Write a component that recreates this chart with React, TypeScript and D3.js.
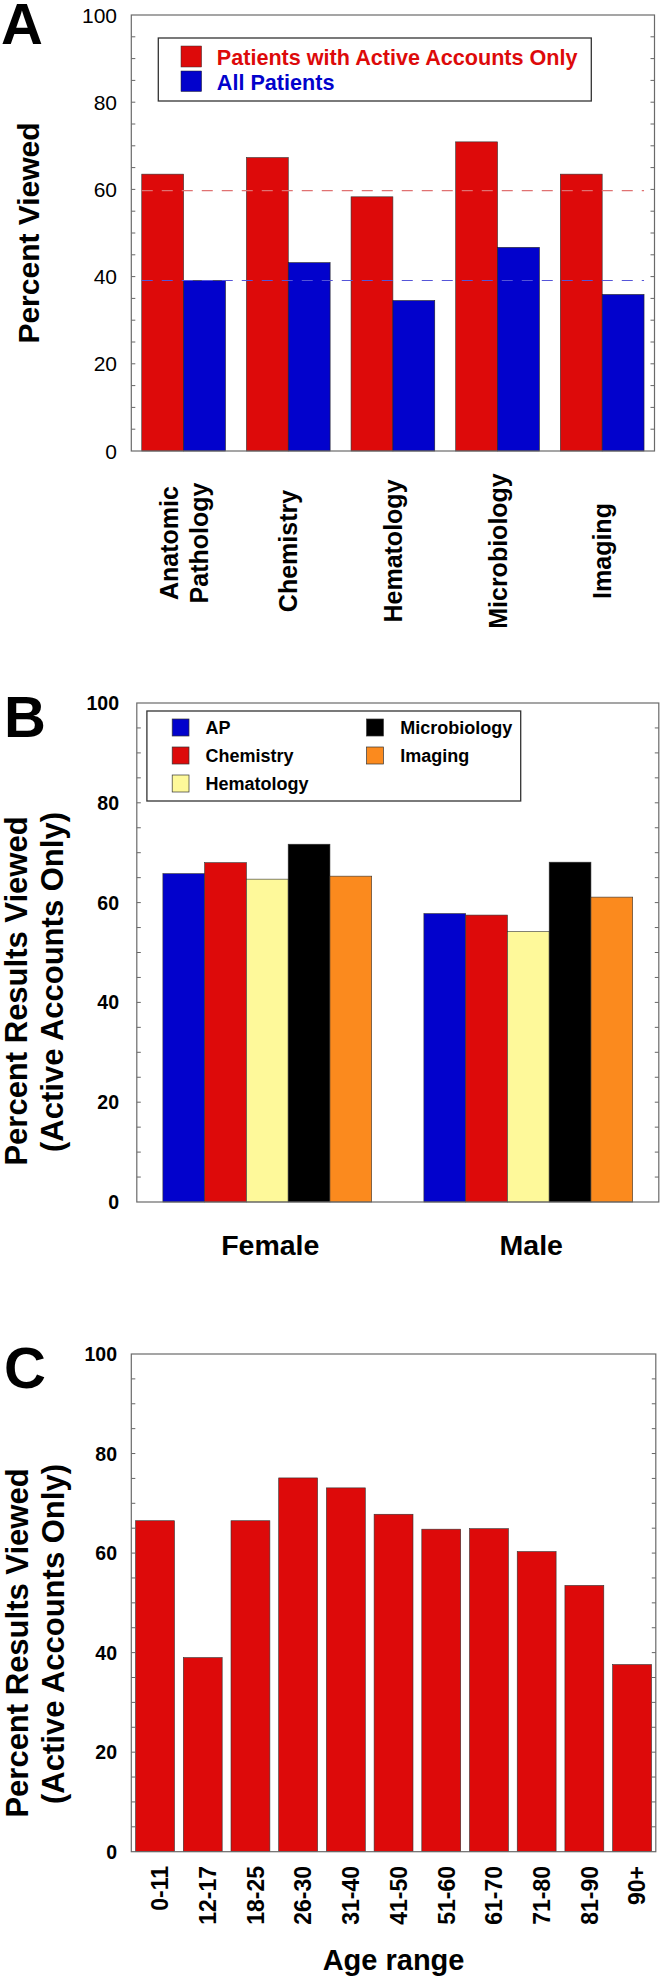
import * as d3 from 'd3';

// Panel A: viewing rate by result type
const labelsA = [['Anatomic', 'Pathology'], ['Chemistry'], ['Hematology'], ['Microbiology'], ['Imaging']];
const activeA = [63.5, 67.3, 58.3, 70.9, 63.5];
const allA = [39.1, 43.2, 34.5, 46.7, 35.9];
const meanActiveA = 59.7;
const meanAllA = 39.1;

// Panel B: by sex
const sexes = ['Female', 'Male'];
const typesB = ['AP', 'Chemistry', 'Hematology', 'Microbiology', 'Imaging'];
const apB = [65.8, 57.8];
const chemB = [68.0, 57.5];
const hemB = [64.7, 54.2];
const microB = [71.7, 68.1];
const imgB = [65.3, 61.1];

// Panel C: by age range
const ages = ['0-11', '12-17', '18-25', '26-30', '31-40', '41-50', '51-60', '61-70', '71-80', '81-90', '90+'];
const valuesC = [66.5, 39.0, 66.5, 75.1, 73.1, 67.8, 64.8, 64.9, 60.3, 53.5, 37.6];

const yTicks = [0, 20, 40, 60, 80, 100];

const RED = '#dd0a0a';
const BLUE = '#0202cc';
const colorsB = ['#0202cc', '#dd0a0a', '#fef99a', '#000000', '#fb8a1e'];
const FONT = '"Liberation Sans", Arial, Helvetica, sans-serif';

const Frame = ({ x0, x1, y }: { x0: number; x1: number; y: d3.ScaleLinear<number, number> }) => {
  const minor = d3.range(5, 100, 5);
  const [b, t] = y.range();
  return (
    <g>
      {minor.map(v => (
        <g key={v} stroke="#666" strokeWidth={1}>
          <line x1={x0} x2={x0 + 4} y1={y(v)} y2={y(v)} />
          <line x1={x1 - 4} x2={x1} y1={y(v)} y2={y(v)} />
        </g>
      ))}
      <rect x={x0} y={t} width={x1 - x0} height={b - t} fill="none" stroke="#6a6a6a" strokeWidth={1.2} />
    </g>
  );
};

const App = () => {
  // ---------- A ----------
  const axL = 131.3, axR = 654.5;
  const yA = d3.scaleLinear().domain([0, 100]).range([451, 15]);
  const xA = d3.scaleBand<number>().domain(d3.range(labelsA.length)).range([axL, axR]).paddingInner(0.2).paddingOuter(0.1);
  const subA = d3.scaleBand<number>().domain([0, 1]).range([0, xA.bandwidth()]);
  const lineA0 = xA(0)!, lineA1 = xA(labelsA.length - 1)! + xA.bandwidth();

  // ---------- B ----------
  const bxL = 136.8, bxR = 658.8;
  const yB = d3.scaleLinear().domain([0, 100]).range([1202, 703]);
  const xB = d3.scaleBand<number>().domain(d3.range(sexes.length)).range([bxL, bxR]).paddingInner(0.2).paddingOuter(0.1);
  const subB = d3.scaleBand<number>().domain(d3.range(typesB.length)).range([0, xB.bandwidth()]);
  const seriesB = [apB, chemB, hemB, microB, imgB];

  // ---------- C ----------
  const cxL = 131.3, cxR = 655.8;
  const yC = d3.scaleLinear().domain([0, 100]).range([1851.7, 1354]);
  const xC = d3.scaleBand<string>().domain(ages).range([cxL, cxR]).paddingInner(0.185).paddingOuter(0.09);

  return (
    <svg width={660} height={1977} style={{ position: 'absolute', left: 0, top: 0, background: '#fff' }} fontFamily={FONT}>
      <rect width={660} height={1977} fill="#fff" />

      {/* ===== Panel A ===== */}
      <text x={1} y={44} fontSize={58} fontWeight="bold">A</text>
      {yTicks.map(v => (
        <text key={v} x={117} y={yA(v)} dy="0.36em" textAnchor="end" fontSize={21}>{v}</text>
      ))}
      <text transform={`translate(39,${(yA(0) + yA(100)) / 2}) rotate(-90)`} textAnchor="middle" fontSize={30} fontWeight="bold">Percent Viewed</text>
      {labelsA.map((_, i) => (
        <g key={i}>
          <rect x={xA(i)! + subA(0)!} y={yA(activeA[i])} width={subA.bandwidth()} height={yA(0) - yA(activeA[i])} fill={RED} stroke="#333" strokeWidth={0.6} />
          <rect x={xA(i)! + subA(1)!} y={yA(allA[i])} width={subA.bandwidth()} height={yA(0) - yA(allA[i])} fill={BLUE} stroke="#222" strokeWidth={0.6} />
        </g>
      ))}
      <line x1={lineA0} x2={lineA1} y1={yA(meanActiveA)} y2={yA(meanActiveA)} stroke="#e07272" strokeWidth={1.2} strokeDasharray="11 9" />
      <line x1={lineA0} x2={lineA1} y1={yA(meanAllA)} y2={yA(meanAllA)} stroke="#5555d8" strokeWidth={1.2} strokeDasharray="11 9" />
      <Frame x0={axL} x1={axR} y={yA} />
      {labelsA.map((lines, i) => {
        const c = xA(i)! + xA.bandwidth() / 2;
        const cy = lines.length > 1 ? 543 : 551;
        return lines.map((ln, j) => (
          <text key={`${i}-${j}`} transform={`translate(${c + (j - (lines.length - 1) / 2) * 30},${cy}) rotate(-90)`} dy="0.36em" textAnchor="middle" fontSize={25} fontWeight="bold">{ln}</text>
        ));
      })}
      {/* legend A */}
      <rect x={158.3} y={38} width={433} height={63} fill="#fff" stroke="#333" strokeWidth={1.3} />
      <rect x={181} y={46} width={20.6} height={21} fill={RED} stroke="#333" strokeWidth={0.5} />
      <rect x={181} y={71} width={20.6} height={20.5} fill={BLUE} stroke="#222" strokeWidth={0.5} />
      <text x={216.8} y={65} fontSize={21.6} fontWeight="bold" fill={RED}>Patients with Active Accounts Only</text>
      <text x={216.8} y={90} fontSize={21.6} fontWeight="bold" fill={BLUE}>All Patients</text>

      {/* ===== Panel B ===== */}
      <text x={4} y={737} fontSize={58} fontWeight="bold">B</text>
      {yTicks.map(v => (
        <text key={v} x={119} y={yB(v)} dy="0.36em" textAnchor="end" fontSize={19.5} fontWeight="bold">{v}</text>
      ))}
      <text transform="translate(27,991) rotate(-90)" textAnchor="middle" fontSize={31} fontWeight="bold">Percent Results Viewed</text>
      <text transform="translate(63,982) rotate(-90)" textAnchor="middle" fontSize={31} fontWeight="bold">(Active Accounts Only)</text>
      {sexes.map((_, i) =>
        seriesB.map((s, k) => (
          <rect key={`${i}-${k}`} x={xB(i)! + subB(k)!} y={yB(s[i])} width={subB.bandwidth()} height={yB(0) - yB(s[i])} fill={colorsB[k]} stroke="#333" strokeWidth={0.6} />
        ))
      )}
      <Frame x0={bxL} x1={bxR} y={yB} />
      {sexes.map((s, i) => (
        <text key={s} x={xB(i)! + xB.bandwidth() / 2 + 3} y={1255} textAnchor="middle" fontSize={28.5} fontWeight="bold">{s}</text>
      ))}
      {/* legend B */}
      <rect x={146.9} y={711} width={373.8} height={90} fill="#fff" stroke="#333" strokeWidth={1.3} />
      {typesB.map((t, k) => {
        const col = k < 3 ? 0 : 1;
        const row = k < 3 ? k : k - 3;
        const sx = col === 0 ? 172.2 : 366.6;
        const tx = col === 0 ? 205.4 : 400.3;
        const top = 719 + row * 28;
        return (
          <g key={t}>
            <rect x={sx} y={top} width={16.8} height={17} fill={colorsB[k]} stroke="#333" strokeWidth={0.7} />
            <text x={tx} y={top + 15} fontSize={18} fontWeight="bold">{t}</text>
          </g>
        );
      })}

      {/* ===== Panel C ===== */}
      <text x={4} y={1388} fontSize={58} fontWeight="bold">C</text>
      {yTicks.map(v => (
        <text key={v} x={117} y={yC(v)} dy="0.36em" textAnchor="end" fontSize={19.5} fontWeight="bold">{v}</text>
      ))}
      <text transform="translate(28,1643) rotate(-90)" textAnchor="middle" fontSize={31} fontWeight="bold">Percent Results Viewed</text>
      <text transform="translate(64,1634) rotate(-90)" textAnchor="middle" fontSize={31} fontWeight="bold">(Active Accounts Only)</text>
      {ages.map((a, i) => (
        <rect key={a} x={xC(a)!} y={yC(valuesC[i])} width={xC.bandwidth()} height={yC(0) - yC(valuesC[i])} fill={RED} stroke="#333" strokeWidth={0.6} />
      ))}
      <Frame x0={cxL} x1={cxR} y={yC} />
      {ages.map(a => (
        <text key={a} transform={`translate(${xC(a)! + xC.bandwidth() / 2 + 5},1866) rotate(-90)`} dy="0.36em" textAnchor="end" fontSize={23} fontWeight="bold">{a}</text>
      ))}
      <text x={(cxL + cxR) / 2} y={1970} textAnchor="middle" fontSize={29} fontWeight="bold">Age range</text>
    </svg>
  );
};

export default App;
